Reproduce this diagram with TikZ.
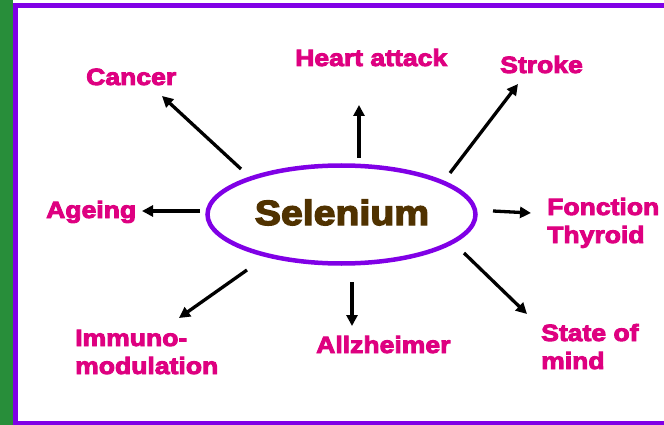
\documentclass[tikz,border=0pt]{standalone}
\usepackage{fontspec}
\usetikzlibrary{shapes.geometric,arrows.meta}
\newfontfamily\heavy{Liberation Sans}[UprightFont={* Bold},FakeStretch=1.13,FakeBold=4]
\newfontfamily\heavyS{Liberation Sans}[UprightFont={* Bold},FakeStretch=1.12,FakeBold=4]
\definecolor{pinkl}{RGB}{222,0,128}
\definecolor{purp}{RGB}{128,0,230}
\definecolor{grn}{RGB}{40,142,58}
\definecolor{brn}{RGB}{80,50,0}
\begin{document}
\begin{tikzpicture}[x=1pt,y=-1pt,
  lbl/.style={text=pinkl,inner sep=0pt,anchor=base west,align=left,
    font=\heavy\fontsize{23.5}{28}\selectfont},
  arr/.style={line width=3.3pt,-{Triangle[length=11pt,width=11pt]}}]
\useasboundingbox (0,0) rectangle (664,425);
\fill[white] (0,0) rectangle (664,425);
\fill[grn] (0,0) rectangle (13,425);
\draw[purp,line width=5pt] (664,5.8) -- (15.5,5.8) -- (15.5,423.2) -- (664,423.2);
\node[draw=purp,line width=4.5pt,ellipse,minimum width=268pt,minimum height=98pt,inner sep=0pt]
  (sel) at (341.5,214.5) {};
\node[text=brn,inner sep=0pt,anchor=base,font=\heavyS\fontsize{35}{40}\selectfont]
  (seltxt) at (342,225) {Selenium};
\node[lbl] (heart) at (295,66) {Heart attack};
\node[lbl] (cancer) at (86,85) {Cancer};
\node[lbl] (stroke) at (500,73) {Stroke};
\node[lbl] (ageing) at (46,218) {Ageing};
\node[lbl] (thyr) at (547,243) {Fonction\\Thyroid};
\node[lbl] (immuno) at (75,374) {Immuno-\\modulation};
\node[lbl] (alz) at (316,353) {Allzheimer};
\node[lbl] (mind) at (541,369) {State of\\mind};
\coordinate (c1) at (241,169); \coordinate (c2) at (162,96);
\coordinate (h1) at (359,158); \coordinate (h2) at (359,105);
\coordinate (s1) at (450,173); \coordinate (s2) at (518,84);
\coordinate (a1) at (200,211); \coordinate (a2) at (142,211);
\coordinate (f1) at (493,211); \coordinate (f2) at (531,213);
\coordinate (i1) at (247,270); \coordinate (i2) at (179,318);
\coordinate (z1) at (352,282); \coordinate (z2) at (352,326);
\coordinate (m1) at (464,253); \coordinate (m2) at (527,314);
\draw[arr] (c1) -- (c2);
\draw[arr] (h1) -- (h2);
\draw[arr] (s1) -- (s2);
\draw[arr] (a1) -- (a2);
\draw[arr] (f1) -- (f2);
\draw[arr] (i1) -- (i2);
\draw[arr] (z1) -- (z2);
\draw[arr] (m1) -- (m2);
\end{tikzpicture}
\end{document}
